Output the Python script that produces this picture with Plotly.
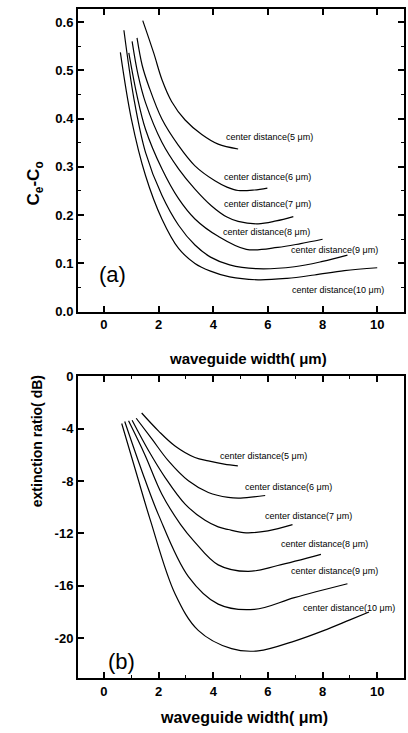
import plotly.graph_objects as go

# ---------------- data ----------------
labels = ["center distance(5 \u03bcm)", "center distance(6 \u03bcm)", "center distance(7 \u03bcm)",
          "center distance(8 \u03bcm)", "center distance(9 \u03bcm)", "center distance(10 \u03bcm)"]

# panel (a): Ce - Co vs waveguide width
a5_x = [1.42, 1.82, 2.12, 2.48, 2.97, 3.58, 4.18, 4.91]
a5_y = [0.603, 0.536, 0.481, 0.435, 0.397, 0.367, 0.347, 0.337]
a6_x = [1.21, 1.4, 1.64, 2.12, 2.73, 3.33, 4.06, 4.5, 4.91, 5.5, 5.98]
a6_y = [0.567, 0.51, 0.467, 0.399, 0.344, 0.302, 0.271, 0.258, 0.251, 0.252, 0.256]
a7_x = [1.03, 1.25, 1.52, 2.12, 2.73, 3.33, 3.94, 4.5, 4.91, 5.64, 6.3, 6.93]
a7_y = [0.560, 0.49, 0.433, 0.351, 0.296, 0.254, 0.219, 0.196, 0.187, 0.182, 0.188, 0.197]
a8_x = [0.91, 1.2, 1.52, 2.12, 2.73, 3.33, 4.18, 5.21, 6.36, 7.2, 8.0]
a8_y = [0.536, 0.45, 0.378, 0.296, 0.234, 0.192, 0.156, 0.129, 0.133, 0.141, 0.150]
a9_x = [0.73, 1.1, 1.52, 2.12, 2.73, 3.33, 3.9, 4.6, 5.58, 6.97, 8.0, 8.91]
a9_y = [0.583, 0.44, 0.330, 0.241, 0.179, 0.138, 0.113, 0.097, 0.089, 0.093, 0.104, 0.117]
a10_x = [0.60, 1.0, 1.52, 2.12, 2.73, 3.33, 3.9, 4.6, 5.64, 6.7, 7.7, 8.8, 10.0]
a10_y = [0.537, 0.40, 0.282, 0.192, 0.131, 0.100, 0.084, 0.072, 0.066, 0.069, 0.076, 0.085, 0.091]

# panel (b): extinction ratio (dB) vs waveguide width
b5_x = [1.38, 2.0, 2.6, 3.33, 3.82, 4.4, 4.9]
b5_y = [-2.8, -4.18, -5.32, -6.2, -6.46, -6.7, -6.84]
b6_x = [1.18, 1.76, 2.36, 3.09, 3.82, 4.55, 5.0, 5.9]
b6_y = [-3.2, -4.8, -6.46, -7.98, -8.87, -9.25, -9.3, -9.1]
b7_x = [1.03, 1.64, 2.24, 2.97, 3.7, 4.18, 4.55, 5.2, 6.0, 6.9]
b7_y = [-3.35, -5.7, -7.73, -9.76, -11.0, -11.5, -11.7, -11.95, -11.8, -11.33]
b8_x = [0.90, 1.5, 2.12, 2.8, 3.3, 4.18, 5.27, 6.36, 7.94]
b8_y = [-3.4, -6.0, -9.0, -11.3, -12.6, -14.4, -14.9, -14.45, -13.6]
b9_x = [0.76, 1.4, 2.0, 3.09, 4.18, 5.5, 6.97, 8.91]
b9_y = [-3.45, -7.3, -10.6, -15.3, -17.4, -17.8, -16.9, -15.84]
b10_x = [0.65, 1.2, 1.7, 2.6, 3.45, 4.67, 5.64, 7.0, 8.06, 9.0, 9.7]
b10_y = [-3.6, -7.5, -11.0, -16.6, -19.4, -20.8, -20.97, -20.2, -19.4, -18.6, -18.0]

x_ticks = [0, 2, 4, 6, 8, 10]
x_ticktext = ["0", "2", "4", "6", "8", "10"]
b_ticks = [0, -4, -8, -12, -16, -20]
b_ticktext = ["0", "-4", "-8", "-12", "-16", "-20"]

# label anchor positions (data coordinates)
a_lab_x = [6.07, 6.0, 6.0, 5.96, 8.44, 8.58]
a_lab_y = [0.361, 0.278, 0.223, 0.165, 0.128, 0.045]
b_lab_x = [5.82, 6.76, 7.49, 8.07, 8.44, 8.98]
b_lab_y = [-6.08, -8.44, -10.65, -12.78, -14.83, -17.72]

# ---------------- figure ----------------
FONT = "Liberation Sans"
tickfont = dict(family=FONT, size=13, color="black", weight="bold")

fig = go.Figure()
line_style = dict(color="black", width=1.2, shape="spline", smoothing=1.0)

for xs, ys in [(a5_x, a5_y), (a6_x, a6_y), (a7_x, a7_y), (a8_x, a8_y), (a9_x, a9_y), (a10_x, a10_y)]:
    fig.add_trace(go.Scatter(x=xs, y=ys, mode="lines", line=line_style,
                             xaxis="x", yaxis="y", showlegend=False))
for xs, ys in [(b5_x, b5_y), (b6_x, b6_y), (b7_x, b7_y), (b8_x, b8_y), (b9_x, b9_y), (b10_x, b10_y)]:
    fig.add_trace(go.Scatter(x=xs, y=ys, mode="lines", line=line_style,
                             xaxis="x2", yaxis="y2", showlegend=False))

fig.update_layout(
    width=408, height=733,
    margin=dict(l=78, r=2, t=6, b=55),
    plot_bgcolor="white",
    xaxis=dict(domain=[0, 1], anchor="y", range=[-0.95, 10.98], tickvals=x_ticks,
               ticks="inside", ticklen=6, tickwidth=1.5, tickcolor="black",
               showline=True, linewidth=2, linecolor="black", mirror="ticks",
               showgrid=False, zeroline=False, tickfont=tickfont),
    yaxis=dict(domain=[0.5476, 1], anchor="x", range=[0, 0.627], dtick=0.1, tick0=0,
               tickformat=".1f", ticks="inside", ticklen=6, tickwidth=1.5, tickcolor="black",
               showline=True, linewidth=2, linecolor="black", mirror="ticks",
               showgrid=False, zeroline=False, tickfont=tickfont,
               minor=dict(dtick=0.05, ticks="inside", ticklen=3, tickwidth=1, tickcolor="black")),
    xaxis2=dict(domain=[0, 1], anchor="y2", range=[-0.95, 10.98], tickvals=x_ticks,
                ticktext=x_ticktext, ticks="inside", ticklen=6, tickwidth=1.5, tickcolor="black",
                showline=True, linewidth=2, linecolor="black", mirror="allticks",
                showgrid=False, zeroline=False, tickfont=tickfont,
                minor=dict(dtick=1, ticks="inside", ticklen=3, tickwidth=1, tickcolor="black")),
    yaxis2=dict(domain=[0, 0.4509], anchor="x2", range=[-23.04, 0], tickvals=b_ticks,
                ticktext=b_ticktext, ticks="inside", ticklen=6, tickwidth=1.5, tickcolor="black",
                showline=True, linewidth=2, linecolor="black", mirror=True,
                showgrid=False, zeroline=False, tickfont=tickfont),
)

ann = []
labfont = dict(family=FONT, size=9, color="black")
for t, x, y in zip(labels, a_lab_x, a_lab_y):
    ann.append(dict(text=t, x=x, y=y, xref="x", yref="y", showarrow=False, font=labfont))
for t, x, y in zip(labels, b_lab_x, b_lab_y):
    ann.append(dict(text=t, x=x, y=y, xref="x2", yref="y2", showarrow=False, font=labfont))

ann.append(dict(text="(a)", x=0.33, y=0.076, xref="x", yref="y", showarrow=False,
                font=dict(family=FONT, size=22, color="black")))
ann.append(dict(text="(b)", x=0.65, y=-21.8, xref="x2", yref="y2", showarrow=False,
                font=dict(family=FONT, size=22, color="black")))

bold17 = dict(family=FONT, size=17, color="black", weight="bold")
ann.append(dict(text="C<sub>e</sub>-C<sub>o</sub>", x=-0.172, y=0.775, xref="paper",
                yref="paper", textangle=-90, showarrow=False, font=bold17))
ann.append(dict(text="extinction ratio( dB)", x=-0.158, y=0.253, xref="paper",
                yref="paper", textangle=-90, showarrow=False,
                font=dict(family=FONT, size=14, color="black", weight="bold")))
ann.append(dict(text="waveguide width( \u03bcm)", x=0.521, y=0.478, xref="paper",
                yref="paper", showarrow=False,
                font=dict(family=FONT, size=15, color="black", weight="bold")))
ann.append(dict(text="waveguide width( \u03bcm)", x=0.509, y=-0.0744, xref="paper",
                yref="paper", showarrow=False,
                font=dict(family=FONT, size=16, color="black", weight="bold")))

fig.update_layout(annotations=ann)
fig.write_html("out.html")
